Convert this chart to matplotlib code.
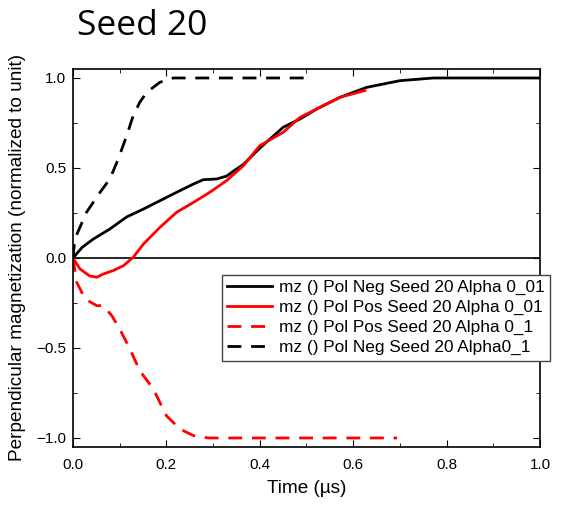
import numpy as np
import matplotlib
matplotlib.use('Agg')
import matplotlib.pyplot as plt
from matplotlib.ticker import MultipleLocator

# mz () Pol Neg Seed 20 Alpha 0_01
neg_001_t = [0.0, 0.02, 0.044, 0.079, 0.115, 0.151, 0.186, 0.222, 0.258, 0.279, 0.308,
             0.329, 0.345, 0.365, 0.4, 0.45, 0.486, 0.522, 0.572, 0.629, 0.7, 0.772, 0.85, 1.0]
neg_001_m = [0.0, 0.06, 0.106, 0.161, 0.228, 0.272, 0.318, 0.365, 0.411, 0.435, 0.439,
             0.455, 0.485, 0.52, 0.61, 0.726, 0.772, 0.828, 0.893, 0.948, 0.985, 1.0, 1.0, 1.0]

# mz () Pol Pos Seed 20 Alpha 0_01
pos_001_t = [0.0, 0.015, 0.036, 0.051, 0.065, 0.086, 0.108, 0.129, 0.151, 0.186, 0.222,
             0.258, 0.293, 0.329, 0.365, 0.4, 0.45, 0.486, 0.522, 0.572, 0.625]
pos_001_m = [0.0, -0.061, -0.10, -0.107, -0.089, -0.07, -0.043, 0.004, 0.078, 0.17, 0.254,
             0.309, 0.365, 0.43, 0.513, 0.624, 0.698, 0.781, 0.828, 0.893, 0.93]

# mz () Pol Pos Seed 20 Alpha 0_1
pos_01_t = [0.0, 0.008, 0.026, 0.051, 0.065, 0.083, 0.1, 0.122, 0.143, 0.172, 0.2,
            0.229, 0.258, 0.29, 0.4, 0.55, 0.694]
pos_01_m = [0.0, -0.135, -0.228, -0.265, -0.265, -0.32, -0.394, -0.506, -0.626, -0.728, -0.876,
            -0.95, -0.987, -1.0, -1.0, -1.0, -1.0]

# mz () Pol Neg Seed 20 Alpha0_1
neg_01_t = [0.0, 0.004, 0.029, 0.058, 0.079, 0.097, 0.115, 0.129, 0.143, 0.158, 0.186,
            0.215, 0.3, 0.4, 0.5]
neg_01_m = [0.0, 0.106, 0.254, 0.365, 0.439, 0.55, 0.68, 0.791, 0.865, 0.92, 0.976,
            1.0, 1.0, 1.0, 1.0]

plt.rcParams['font.family'] = ['Liberation Sans', 'DejaVu Sans']

fig = plt.figure(figsize=(5.76, 5.05), dpi=100)
ax = fig.add_axes([0.1267, 0.1149, 0.8108, 0.7485])

lw = 2.0
ax.axhline(0, color='black', lw=1.2, zorder=1)
ax.plot(neg_001_t, neg_001_m, color='black', lw=lw, label='mz () Pol Neg Seed 20 Alpha 0_01')
ax.plot(pos_001_t, pos_001_m, color='red', lw=lw, label='mz () Pol Pos Seed 20 Alpha 0_01')
ax.plot(pos_01_t, pos_01_m, color='red', lw=lw, dashes=(5, 3.5),
        label='mz () Pol Pos Seed 20 Alpha 0_1')
ax.plot(neg_01_t, neg_01_m, color='black', lw=lw, dashes=(5, 3.5),
        label='mz () Pol Neg Seed 20 Alpha0_1')

ax.set_xlim(0, 1.0)
ax.set_ylim(-1.05, 1.05)
ax.xaxis.set_major_locator(MultipleLocator(0.2))
ax.xaxis.set_minor_locator(MultipleLocator(0.1))
ax.yaxis.set_major_locator(MultipleLocator(0.5))
ax.yaxis.set_minor_locator(MultipleLocator(0.25))
ax.tick_params(which='both', direction='in', top=True, right=True, labelsize=11)
ax.tick_params(which='major', length=5)
ax.tick_params(which='minor', length=3)
ax.tick_params(axis='x', pad=8)
ax.tick_params(axis='y', pad=5)
for s in ax.spines.values():
    s.set_linewidth(1.2)

ax.set_xlabel('Time (µs)', fontsize=13.7, labelpad=6)
ax.set_ylabel('Perpendicular magnetization (normalized to unit)', fontsize=13.7, labelpad=7)

fig.text(0.133, 0.9307, 'Seed 20', fontsize=25.5, family='Open Sans', ha='left', va='baseline')

leg = ax.legend(loc='upper left', bbox_to_anchor=(0.319, 0.455), fontsize=12.4,
                handlelength=2.6, handletextpad=0.4, borderpad=0.3, labelspacing=0.28,
                fancybox=False, framealpha=1, edgecolor='#444444', borderaxespad=0)
leg.get_frame().set_linewidth(1.0)

fig.savefig('out.png', dpi=100)
